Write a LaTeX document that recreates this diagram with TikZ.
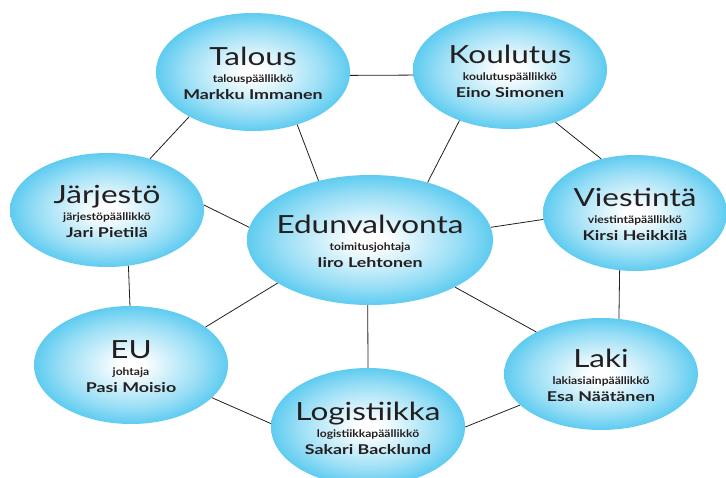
\documentclass[tikz,border=0pt]{standalone}
\usepackage{fontspec}
\setmainfont{Lato}
\newfontfamily\ttlfont[FakeStretch=1.26]{Lato}
\newfontfamily\subfont[FakeStretch=1.15]{Lato}
\newfontfamily\namfont[FakeStretch=1.32]{Lato}
\usetikzlibrary{shapes.geometric}
\definecolor{bubc}{RGB}{28,182,234}
\definecolor{ink}{RGB}{35,31,32}
\pgfdeclareradialshading{bubble}{\pgfpoint{0bp}{0bp}}{color(0bp)=(white); color(3bp)=(white); color(18bp)=(bubc!45!white); color(33bp)=(bubc); color(50bp)=(bubc)}
\tikzset{
  bub/.style={ellipse, shading=bubble, draw=none, inner sep=0pt},
  ttl/.style={anchor=base, inner sep=0pt, text=ink, font=\ttlfont\fontsize{25}{27}\selectfont},
  subt/.style={anchor=base, inner sep=0pt, text=ink, font=\subfont\bfseries\fontsize{10.5}{11}\selectfont},
  nam/.style={anchor=base, inner sep=0pt, text=ink, font=\namfont\bfseries\fontsize{13.5}{14}\selectfont},
  link/.style={draw=ink, line width=0.8pt}
}
\newcommand\mybub[7]{%
  \node[bub, minimum width=#3pt, minimum height=#4pt] (#1) at (#2) {};
  \path (#1.center) ++(0,-7) node[ttl] (#1-t) {#5};
  \path (#1.center) ++(0,10) node[subt] (#1-s) {#6};
  \path (#1.center) ++(0,27) node[nam] (#1-n) {#7};
}
\begin{document}
\begin{tikzpicture}[x=1pt,y=-1pt]
\useasboundingbox (0,0) rectangle (726,477);
\clip (0,0) rectangle (726,477);
\fill[white] (0,0) rectangle (726,477);
\mybub{talous}{253,72}{194}{118}{Talous}{talouspäällikkö}{Markku Immanen}
\mybub{koulutus}{510,70}{194}{118}{Koulutus}{koulutuspäällikkö}{Eino Simonen}
\mybub{jarjesto}{107,210}{194}{114}{Järjestö}{järjestöpäällikkö}{Jari Pietilä}
\mybub{edun}{370,240}{246}{130}{Edunvalvonta}{toimitusjohtaja}{Iiro Lehtonen}
\mybub{viest}{635,213}{184}{116}{Viestintä}{viestintäpäällikkö}{Kirsi Heikkilä}
\mybub{eu}{131,365}{194}{118}{EU}{johtaja}{Pasi Moisio}
\mybub{laki}{601,374}{194}{112}{Laki}{lakiasiainpäällikkö}{Esa Näätänen}
\mybub{logist}{368,427}{194}{118}{Logistiikka}{logistiikkapäällikkö}{Sakari Backlund}
% ring
\draw[link] (talous.358) -- (koulutus.183);
\draw[link] (koulutus.311) -- (viest.122);
\draw[link] (viest.255) -- (laki.72);
\draw[link] (laki.201) -- (logist.0);
\draw[link] (logist.178) -- (eu.338);
\draw[link] (eu.91) -- (jarjesto.291);
\draw[link] (jarjesto.50) -- (talous.215);
% spokes
\draw[link] (edun.131) -- (talous.310);
\draw[link] (edun.45) -- (koulutus.225);
\draw[link] (edun.6) -- (viest.184);
\draw[link] (edun.174) -- (jarjesto.3);
\draw[link] (edun.205) -- (eu.27);
\draw[link] (edun.268) -- (logist.90);
\draw[link] (edun.331) -- (laki.147);
\end{tikzpicture}
\end{document}
